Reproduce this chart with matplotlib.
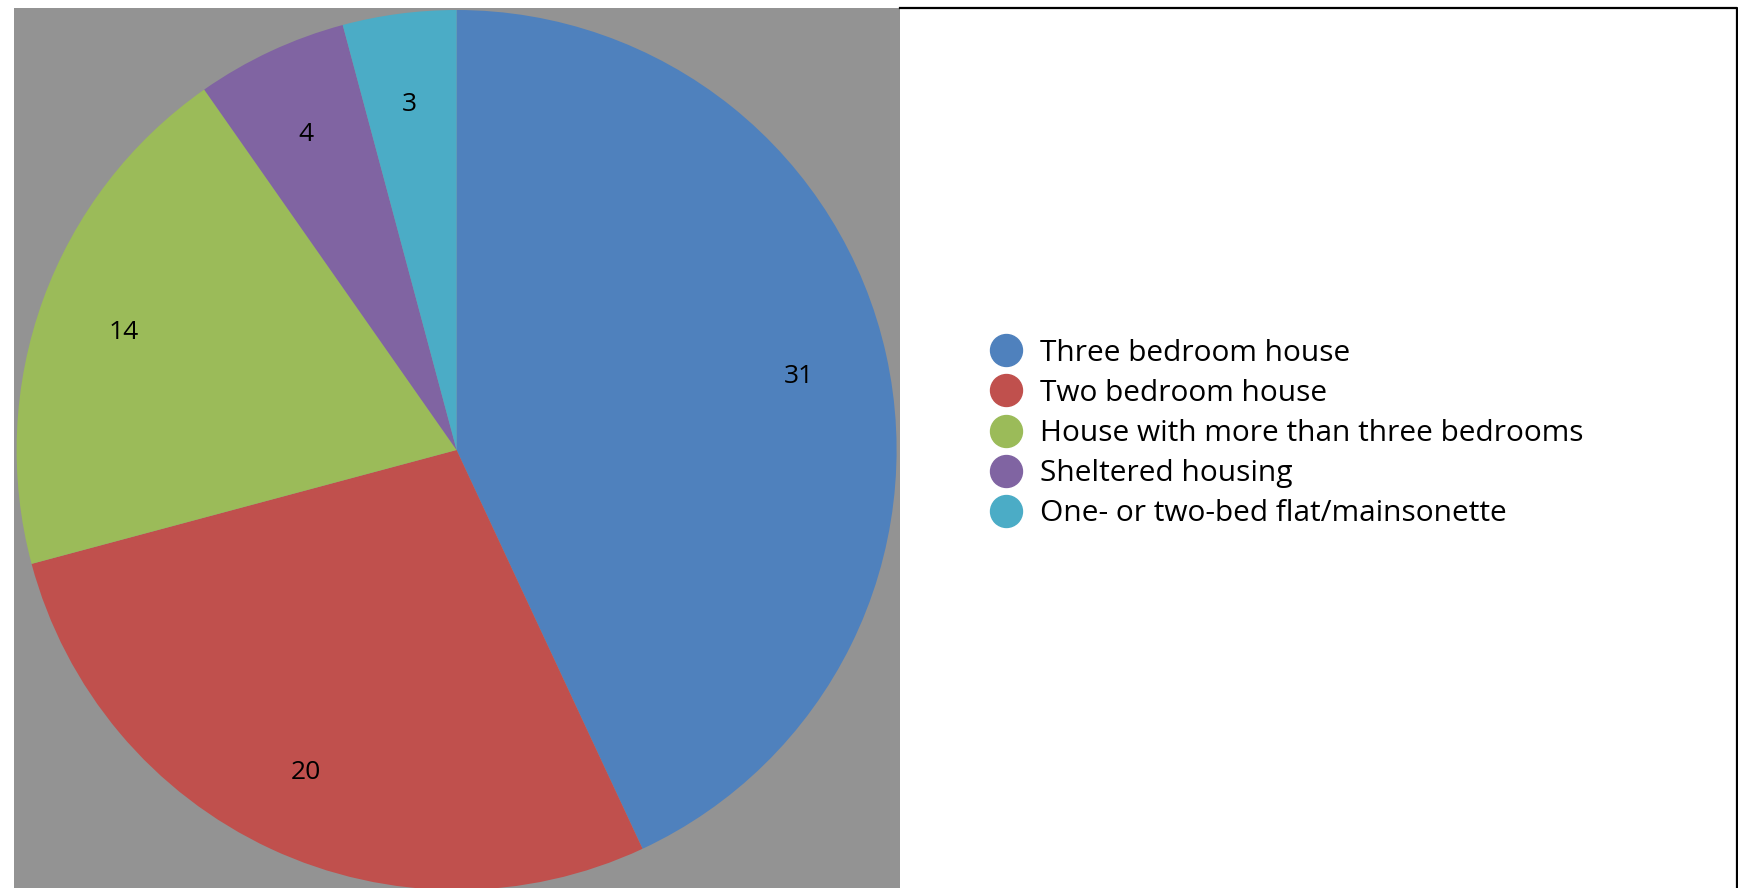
import matplotlib.pyplot as plt
from matplotlib.lines import Line2D
from matplotlib.patches import Rectangle

categories = ['Three bedroom house', 'Two bedroom house',
              'House with more than three bedrooms', 'Sheltered housing',
              'One- or two-bed flat/mainsonette']
counts = [31, 20, 14, 4, 3]
colors = ['#4F81BD', '#C0504D', '#9BBB59', '#8064A2', '#4BACC6']

plt.rcParams['font.family'] = ['Open Sans', 'DejaVu Sans']

W, H = 1738, 888
fig = plt.figure(figsize=(W / 100, H / 100), dpi=100)
fig.patch.set_facecolor('white')

# grey plot area and the chart border
fig.add_artist(Rectangle((13.5 / W, 0), (900 - 13.5) / W, 1 - 8.5 / H,
                         transform=fig.transFigure, facecolor='#939393',
                         edgecolor='none', zorder=0))
fig.add_artist(Line2D([900 / W, 1736.5 / W, 1736.5 / W],
                      [1 - 8.5 / H, 1 - 8.5 / H, 0],
                      transform=fig.transFigure, color='black', linewidth=1.6))

cx, cy, r = 456.6, 450, 440
ax = fig.add_axes([(cx - r) / W, (H - cy - r) / H, 2 * r / W, 2 * r / H])
ax.set_facecolor('none')

total = sum(counts)
wedges, _, autotexts = ax.pie(counts, colors=colors, startangle=90, counterclock=False,
                              autopct=lambda p: f'{round(p * total / 100):d}',
                              pctdistance=0.8, radius=1,
                              textprops=dict(fontsize=19, color='black'))
for t in autotexts:
    x, y = t.get_position()
    t.set_position((x - 0.004, y - 0.007))
ax.set_xlim(-1, 1)
ax.set_ylim(-1, 1)
ax.set_aspect('equal')
ax.axis('off')

handles = [Line2D([], [], linestyle='none', marker='o', markersize=23,
                  markerfacecolor=c, markeredgecolor=c) for c in colors]
fig.legend(handles, categories, loc='center left',
           bbox_to_anchor=(989 / W, 1 - 433.5 / H), bbox_transform=fig.transFigure,
           frameon=False, fontsize=21.5, handlelength=1.12, handletextpad=0.6,
           labelspacing=0.37, borderpad=0, borderaxespad=0)

fig.savefig('out.png', dpi=100)
